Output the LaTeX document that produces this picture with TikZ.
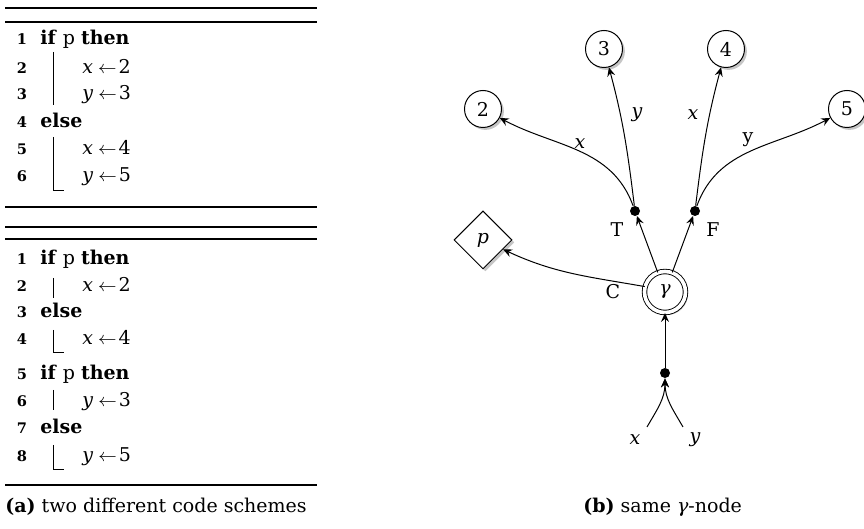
\documentclass[tikz,border=0pt]{standalone}
\usepackage{fontspec}
\setmainfont{DejaVu Serif}
\usetikzlibrary{arrows.meta,shapes.geometric,shadows}
\newcommand\mv[1]{\textit{#1}}
\newcommand\asg[2]{\mv{#1}\hspace{2.5pt}\ensuremath{\leftarrow}\hspace{1pt}#2}
\begin{document}
\begin{tikzpicture}[x=0.5pt,y=-0.5pt,font=\fontsize{9.5}{11}\selectfont,
  >={Stealth[length=4.5pt,width=4pt,inset=1.6pt]},
  lnum/.style={anchor=base,font=\fontsize{7.3}{8}\selectfont\bfseries,inner sep=0},
  code/.style={anchor=base west,inner sep=0},
  rulethick/.style={line width=0.9pt},
  rulethin/.style={line width=0.6pt},
  blockbar/.style={line width=0.5pt},
  num/.style={circle,draw,line width=0.5pt,fill=white,minimum size=18.5pt,inner sep=0,
    drop shadow={opacity=0.45,shadow xshift=1.2pt,shadow yshift=-1.2pt}},
  dot/.style={circle,fill=black,minimum size=5pt,inner sep=0},
  gam/.style={circle,draw,line width=0.45pt,double,double distance=1.8pt,fill=white,minimum size=20.5pt,inner sep=0,
    drop shadow={opacity=0.45,shadow xshift=1.2pt,shadow yshift=-1.2pt}},
  dia/.style={diamond,draw,line width=0.5pt,fill=white,minimum size=29pt,inner sep=0,
    drop shadow={opacity=0.45,shadow xshift=1.2pt,shadow yshift=-1.2pt}},
  edge/.style={->,line width=0.5pt},
  lbl/.style={inner sep=0}]
\useasboundingbox (0,0) rectangle (864,529);

% ---------- algorithm 1 ----------
\draw[rulethick] (5,8) -- (317,8);
\draw[rulethick] (5,22) -- (317,22);
\node[lnum] (a1n1) at (22,45) {1};
\node[code] (a1l1) at (40,45) {\textbf{if} p \textbf{then}};
\node[lnum] (a1n2) at (22,74) {2};
\node[code] (a1l2) at (82,74) {\asg{x}{2}};
\node[lnum] (a1n3) at (22,100) {3};
\node[code] (a1l3) at (82,100) {\asg{y}{3}};
\node[lnum] (a1n4) at (22,128) {4};
\node[code] (a1l4) at (40,128) {\textbf{else}};
\node[lnum] (a1n5) at (22,155) {5};
\node[code] (a1l5) at (82,155) {\asg{x}{4}};
\node[lnum] (a1n6) at (22,182) {6};
\node[code] (a1l6) at (82,182) {\asg{y}{5}};
\draw[blockbar] (53,52) -- (53,105);
\draw[blockbar] (53,137) -- (53,191) -- (64,191);
\draw[rulethin] (5,207) -- (317,207);

% ---------- algorithm 2 ----------
\draw[rulethin] (5,227) -- (317,227);
\draw[rulethick] (5,239) -- (317,239);
\node[lnum] (a2n1) at (22,265) {1};
\node[code] (a2l1) at (40,265) {\textbf{if} p \textbf{then}};
\node[lnum] (a2n2) at (22,292) {2};
\node[code] (a2l2) at (82,292) {\asg{x}{2}};
\node[lnum] (a2n3) at (22,318) {3};
\node[code] (a2l3) at (40,318) {\textbf{else}};
\node[lnum] (a2n4) at (22,345) {4};
\node[code] (a2l4) at (82,345) {\asg{x}{4}};
\node[lnum] (a2n5) at (22,380) {5};
\node[code] (a2l5) at (40,380) {\textbf{if} p \textbf{then}};
\node[lnum] (a2n6) at (22,407) {6};
\node[code] (a2l6) at (82,407) {\asg{y}{3}};
\node[lnum] (a2n7) at (22,434) {7};
\node[code] (a2l7) at (40,434) {\textbf{else}};
\node[lnum] (a2n8) at (22,462) {8};
\node[code] (a2l8) at (82,462) {\asg{y}{5}};
\draw[blockbar] (53,278) -- (53,298);
\draw[blockbar] (53,330) -- (53,353) -- (64,353);
\draw[blockbar] (53,390) -- (53,410);
\draw[blockbar] (53,445) -- (53,470) -- (64,470);
\draw[rulethick] (5,485) -- (317,485);

\node[code] (capa) at (5,513) {\textbf{(a)} two different code schemes};

% ---------- gamma diagram ----------
\node[num] (n2) at (483,109) {2};
\node[num] (n3) at (604,49) {3};
\node[num] (n4) at (726,49) {4};
\node[num] (n5) at (847,109) {5};
\node[dot] (T) at (635,211) {};
\node[dot] (F) at (695,211) {};
\node[gam] (g) at (665,292) {\mv{γ}};
\node[dia] (p) at (483,240) {\mv{p}};
\node[dot] (b) at (665,373) {};

\draw[edge] (T) to[out=110,in=-28] (n2);
\draw[edge] (T) to[out=97,in=-75] (n3);
\draw[edge] (F) to[out=83,in=-105] (n4);
\draw[edge] (F) to[out=70,in=-152] (n5);
\node[lbl] (lx1) at (580,144) {\mv{x}};
\node[lbl] (ly1) at (637,115) {\mv{y}};
\node[lbl] (lx2) at (693,115) {\mv{x}};
\node[lbl] (ly2) at (748,140) {y};

\draw[edge] (g) -- (T);
\draw[edge] (g) -- (F);
\draw[edge] (g.165) to[out=170,in=-25] (p);
\node[lbl] (lT) at (617,230) {T};
\node[lbl] (lF) at (713,230) {F};
\node[lbl] (lC) at (613,292) {C};

\draw[edge] (b) -- (g);
\coordinate (xs) at (647,427);
\coordinate (ys) at (683,427);
\draw[edge] (xs) to[out=60,in=-90] (b);
\draw[edge] (ys) to[out=120,in=-90] (b);
\node[lbl] (lxb) at (635,440) {\mv{x}};
\node[lbl] (lyb) at (695,440) {\mv{y}};

\node[code] (capb) at (583,513) {\textbf{(b)} same \mv{γ}-node};
\end{tikzpicture}
\end{document}
